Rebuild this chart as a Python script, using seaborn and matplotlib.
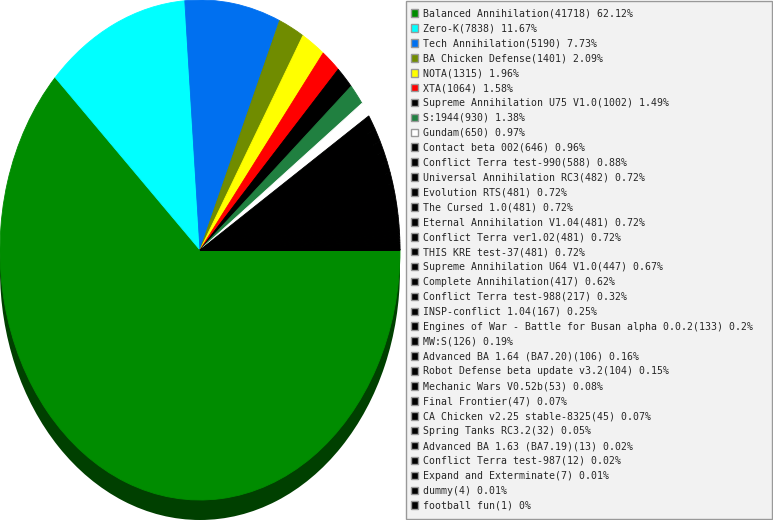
import matplotlib
matplotlib.use("Agg")
import matplotlib.pyplot as plt
from matplotlib.patches import Patch, Rectangle
import seaborn as sns

games = ["Balanced Annihilation", "Zero-K", "Tech Annihilation", "BA Chicken Defense",
         "NOTA", "XTA", "Supreme Annihilation U75 V1.0", "S:1944", "Gundam",
         "Contact beta 002", "Conflict Terra test-990", "Universal Annihilation RC3",
         "Evolution RTS", "The Cursed 1.0", "Eternal Annihilation V1.04",
         "Conflict Terra ver1.02", "THIS KRE test-37", "Supreme Annihilation U64 V1.0",
         "Complete Annihilation", "Conflict Terra test-988", "INSP-conflict 1.04",
         "Engines of War - Battle for Busan alpha 0.0.2", "MW:S",
         "Advanced BA 1.64 (BA7.20)", "Robot Defense beta update v3.2",
         "Mechanic Wars V0.52b", "Final Frontier", "CA Chicken v2.25 stable-8325",
         "Spring Tanks RC3.2", "Advanced BA 1.63 (BA7.19)", "Conflict Terra test-987",
         "Expand and Exterminate", "dummy", "football fun"]
counts = [41718, 7838, 5190, 1401, 1315, 1064, 1002, 930, 650, 646, 588, 482,
          481, 481, 481, 481, 481, 447, 417, 217, 167, 133, 126, 106, 104, 53,
          47, 45, 32, 13, 12, 7, 4, 1]
percents = ["62.12%", "11.67%", "7.73%", "2.09%", "1.96%", "1.58%", "1.49%", "1.38%",
            "0.97%", "0.96%", "0.88%", "0.72%", "0.72%", "0.72%", "0.72%", "0.72%",
            "0.72%", "0.67%", "0.62%", "0.32%", "0.25%", "0.2%", "0.19%", "0.16%",
            "0.15%", "0.08%", "0.07%", "0.07%", "0.05%", "0.02%", "0.02%", "0.01%",
            "0.01%", "0%"]
top_colors = ["#008c00", "#00ffff", "#0070f0", "#708c00", "#ffff00", "#ff0000",
              "#000000", "#208040", "#ffffff"]
colors = top_colors + ["#000000"] * (len(counts) - len(top_colors))

sns.set_style("white")
plt.rcParams["font.family"] = ["DejaVu Sans Mono"]

W, H = 773, 520
fig = plt.figure(figsize=(W / 100, H / 100), dpi=100)
ax = fig.add_axes([0, 0, 400 / W, 1])

# 3d-ish depth: dark green copy of the disc shifted down
depth = 0.08
ax.pie([1], colors=["#004000"], center=(0, -depth), wedgeprops=dict(linewidth=0))
wedges, _ = ax.pie(counts, colors=colors, startangle=0, counterclock=False)
for w in wedges:
    # edge in the face colour hides the antialiasing seams between slices
    w.set_edgecolor(w.get_facecolor())
    w.set_linewidth(0.6)
ax.set_aspect("auto")
ax.set_xlim(-1, 1)
ax.set_ylim(-1 - depth, 1)
ax.axis("off")

# legend box
fig.patches.append(Rectangle((406 / W, 1 / H), 366 / W, 518 / H, transform=fig.transFigure,
                             facecolor="#f2f2f2", edgecolor="#999999", linewidth=1))

handles = [Patch(facecolor=c, edgecolor="#999999", linewidth=1) for c in colors]
labels = [f"{g}({n}) {p}" for g, n, p in zip(games, counts, percents)]
fig.legend(handles, labels, loc="upper left", bbox_to_anchor=(410.5 / W, 1 - 8.5 / H),
           frameon=False, fontsize=7.15, borderpad=0, borderaxespad=0,
           handlelength=0.8, handleheight=0.8, handletextpad=0.5,
           labelspacing=0.495)

fig.savefig("out.png", dpi=100)
